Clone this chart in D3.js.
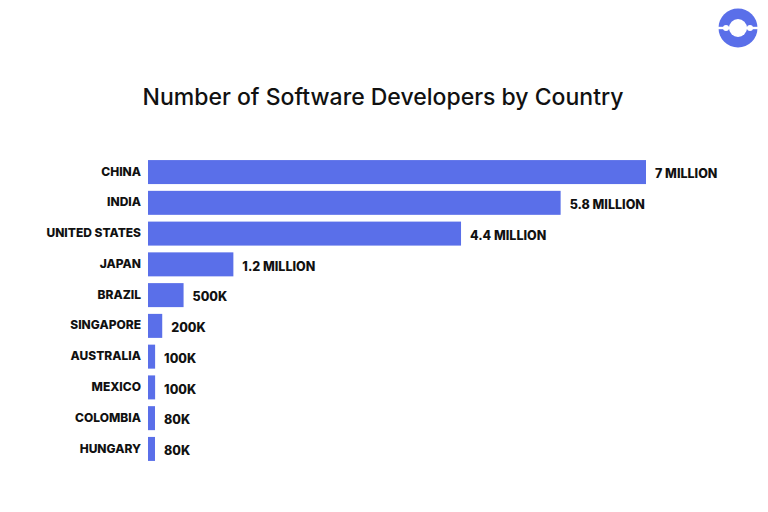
<!DOCTYPE html>
<meta charset="utf-8">
<title>Software Developers by Country</title>
<style>
  body { margin: 0; background: #fff; }
  .lbl { font: 800 12px Inter, "Open Sans", sans-serif; fill: #111; }
  .val { font: 800 12.5px Inter, "Open Sans", sans-serif; fill: #111; }
  .title { font: 500 23px Inter, "Open Sans", sans-serif; fill: #111; }
</style>
<body>
<svg width="768" height="512" id="chart"></svg>
<script src="https://d3js.org/d3.v7.min.js"></script>
<script>
// data, in millions
var countries = ["CHINA", "INDIA", "UNITED STATES", "JAPAN", "BRAZIL",
  "SINGAPORE", "AUSTRALIA", "MEXICO", "COLOMBIA", "HUNGARY"];
var developers = [7, 5.8, 4.4, 1.2, 0.5, 0.2, 0.1, 0.1, 0.08, 0.08];
var valueLabels = ["7 MILLION", "5.8 MILLION", "4.4 MILLION", "1.2 MILLION",
  "500K", "200K", "100K", "100K", "80K", "80K"];

var svg = d3.select("#chart");

var x = d3.scaleLinear().domain([0, 7]).range([148, 646]);
var y = d3.scaleBand().domain(countries).range([157, 464]).paddingInner(0.22).paddingOuter(0.1);

svg.append("text")
    .attr("class", "title")
    .attr("x", 383)
    .attr("y", 105)
    .attr("text-anchor", "middle")
    .text("Number of Software Developers by Country");

var rows = countries.map(function(c, i) {
  return { name: c, v: developers[i], label: valueLabels[i] };
});

svg.selectAll("rect.bar")
  .data(rows)
  .enter().append("rect")
    .attr("class", "bar")
    .attr("x", x(0))
    .attr("y", function(d) { return y(d.name); })
    .attr("width", function(d) { return Math.max(x(d.v) - x(0), 7); })
    .attr("height", y.bandwidth())
    .attr("fill", "#5a6fe9");

svg.selectAll("text.lbl")
  .data(rows)
  .enter().append("text")
    .attr("class", "lbl")
    .attr("x", 141)
    .attr("y", function(d) { return y(d.name) + y.bandwidth() / 2; })
    .attr("dy", "0.3em")
    .attr("text-anchor", "end")
    .text(function(d) { return d.name; });

svg.selectAll("text.val")
  .data(rows)
  .enter().append("text")
    .attr("class", "val")
    .attr("x", function(d) { return x(0) + Math.max(x(d.v) - x(0), 7) + 9; })
    .attr("y", function(d) { return y(d.name) + y.bandwidth() / 2; })
    .attr("dy", "0.5em")
    .text(function(d) { return d.label; });

// logo
var logo = svg.append("g").attr("transform", "translate(738,28)");
logo.append("circle").attr("r", 19.5).attr("fill", "#5a6fe9");
logo.append("circle").attr("r", 9).attr("fill", "#fff");
logo.append("rect").attr("x", -20).attr("y", -1.2).attr("width", 40).attr("height", 2.4).attr("fill", "#fff");
logo.append("circle").attr("cx", -12).attr("r", 3).attr("fill", "#fff");
logo.append("circle").attr("cx", 12).attr("r", 3).attr("fill", "#fff");
</script>
</body>
